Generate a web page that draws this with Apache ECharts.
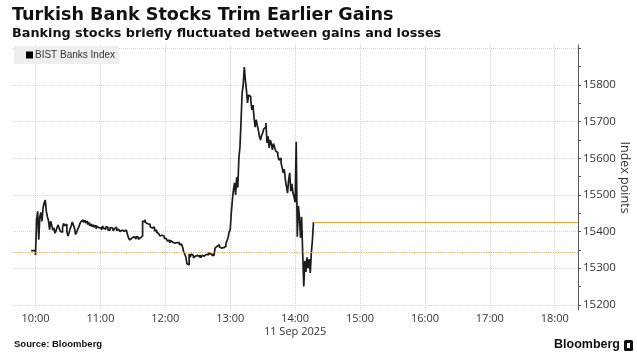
<!DOCTYPE html>
<html><head><meta charset="utf-8">
<script src="https://cdn.jsdelivr.net/npm/echarts@6/dist/echarts.min.js"></script>
<style>html,body{margin:0;padding:0;background:#fff}#c{width:637px;height:356px}</style>
</head><body><div id="c"></div>
<script>
// ---- data ----
const seriesName = 'BIST Banks Index';
const startTime = '09:56';           // first minute of the per-minute series
const values = [
 15348,15348,15348,15348,
 15336,15432,15455,15378,15440,15452,15428,15465,15478,15486,
 15455,15440,15430,15405,15428,15418,15404,15410,15396,15402,
 15412,15418,15408,15400,15398,15412,15422,15416,15420,15400,
 15388,15396,15408,15415,15426,15418,15410,15392,15398,15406,
 15412,15421,15427,15432,15426,15430,15424,15428,15420,15424,
 15416,15420,15414,15418,15412,15417,15408,15414,15410,15406,
 15410,15404,15415,15409,15406,15413,15412,15404,15404,15411,
 15410,15405,15402,15408,15412,15403,15406,15410,15400,15404,
 15408,15401,15398,15404,15405,15392,15383,15377,15382,15380,
 15386,15381,15380,15386,15385,15379,15383,15386,15388,15429,
 15426,15432,15424,15421,15416,15420,15413,15410,15407,15412,
 15402,15404,15398,15394,15398,15388,15390,15385,15388,15382,
 15380,15383,15374,15377,15369,15375,15371,15372,15368,15366,
 15370,15367,15370,15364,15366,15362,15357,15345,15338,15330,
 15312,15309,15339,15330,15339,15334,15328,15333,15331,15335,
 15338,15330,15336,15329,15335,15333,15331,15338,15340,15336,
 15342,15339,15338,15334,15340,15334,15355,15360,15362,15364,
 15358,15355,15350,15356,15353,15360,15366,15375,15383,15399,
 15405,15451,15486,15514,15533,15500,15548,15520,15600,15631,
 15700,15778,15800,15849,15814,15786,15751,15773,15768,15759,
 15732,15745,15713,15685,15705,15690,15677,15660,15650,15662,
 15669,15680,15685,15696,15642,15660,15628,15650,15640,15623,
 15640,15631,15620,15615,15608,15595,15600,15587,15575,15560,
 15570,15541,15522,15505,15541,15560,15510,15530,15505,15495,
 15480,15645,15386,15470,15440,15383,15440,15340,15250,15320,
 15290,15330,15300,15325,15287,15342,15377,15426
];
const prevClose = 15344;
const xLabelTimes = ['10:00','11:00','12:00','13:00','14:00','15:00','16:00','17:00','18:00'];
const dateText = '11 Sep 2025';
const dateUnderTime = '14:00';
const yLabelValues = [15200,15300,15400,15500,15600,15700,15800];
const yTickValues = [15200,15250,15300,15350,15400,15450,15500,15550,15600,15650,15700,15750,15800,15850,15900];
const xRange = [579.2, 1101.5];   // minutes of day, visible window
const yRange = [15186, 15909];

// ---- helpers ----
const toMin = s => { const [h, m] = s.split(':').map(Number); return h * 60 + m; };
const toHHMM = m => { const h = Math.floor(m / 60), mm = Math.round(m % 60); return String(h).padStart(2, '0') + ':' + String(mm).padStart(2, '0'); };
const t0 = toMin(startTime);
const lineData = values.map((v, i) => [t0 + i, v]);
const lastPoint = lineData[lineData.length - 1];
const xTicks = xLabelTimes.map(toMin);

const FONT = "'Liberation Sans', Arial, sans-serif";
const TFONT = "'DejaVu Sans', sans-serif";
const AXFONT = "'Open Sans', 'Noto Sans', sans-serif";
const ORANGE = '#f2a43a';

const chart = echarts.init(document.getElementById('c'), null, { renderer: 'canvas' });
chart.setOption({
  animation: false,
  backgroundColor: '#ffffff',
  grid: { left: 13, right: 59, top: 45, bottom: 46, outerBoundsMode: 'none', containLabel: false },
  legend: {
    data: [seriesName], left: 14, top: 46, orient: 'horizontal',
    backgroundColor: '#eeeeee', padding: [4, 4, 4, 12],
    icon: 'rect', itemWidth: 7, itemHeight: 7, itemGap: 4,
    textStyle: { fontFamily: FONT, fontSize: 10, color: '#333', padding: [0, 0, 0, -3] },
    selectedMode: false
  },
  xAxis: {
    type: 'value', min: xRange[0], max: xRange[1],
    axisLine: { show: false },
    axisTick: { show: false, customValues: xTicks },
    axisLabel: {
      customValues: xTicks, margin: 2,
      fontFamily: AXFONT, fontSize: 11, color: '#333', lineHeight: 13,
      formatter: v => { const s = toHHMM(v); return s === dateUnderTime ? s + '\n' + dateText : s; }
    },
    splitLine: { show: true, lineStyle: { color: '#d4d4d4', type: 'dotted', width: 1 } }
  },
  yAxis: {
    type: 'value', position: 'right', min: yRange[0], max: yRange[1],
    axisLine: { show: true, lineStyle: { color: '#555', width: 1 } },
    axisTick: { show: true, customValues: yTickValues, length: 3, lineStyle: { color: '#555' } },
    axisLabel: { customValues: yLabelValues, margin: 5, fontFamily: AXFONT, fontSize: 11.5, color: '#333', formatter: v => String(v) },
    splitLine: { show: true, lineStyle: { color: ['#d4d4d4', 'rgba(0,0,0,0)'], type: 'dotted', width: 1 } },
    name: 'Index points', nameLocation: 'middle', nameRotate: -90, nameGap: 40, nameMoveOverlap: false,
    nameTextStyle: { fontFamily: AXFONT, fontSize: 12.5, color: '#333' }
  },
  series: [
    {
      name: seriesName, type: 'line', data: lineData, step: 'end', showSymbol: false,
      lineStyle: { color: '#1c1c1c', width: 1.7 }, itemStyle: { color: '#000' },
      z: 3,
      markLine: {
        silent: true, symbol: 'none', label: { show: false },
        data: [
          { yAxis: prevClose, lineStyle: { color: ORANGE, type: 'dotted', width: 1.2 } },
          [ { coord: lastPoint, lineStyle: { color: ORANGE, type: 'solid', width: 1.2 } }, { coord: [xRange[1], lastPoint[1]] } ]
        ]
      }
    }
  ],
  graphic: [
    { type: 'text', left: 12, top: 6, style: { text: 'Turkish Bank Stocks Trim Earlier Gains', font: "bold 17.6px " + TFONT, fill: '#111' } },
    { type: 'text', left: 12, top: 27, style: { text: 'Banking stocks briefly fluctuated between gains and losses', font: "bold 12.8px " + TFONT, fill: '#111' } },
    { type: 'rect', left: 18, top: 52, shape: { width: 4, height: 4 }, style: { fill: 'none', stroke: '#999', lineWidth: 0.8 } },
    { type: 'text', left: 14, top: 339, style: { text: 'Source: Bloomberg', font: "bold 9.5px " + FONT, fill: '#111' } },
    { type: 'text', right: 17, top: 338, style: { text: 'Bloomberg', font: "bold 12.5px " + FONT, fill: '#111' } },
    { type: 'rect', right: 4, top: 340, shape: { width: 9, height: 11, r: 1.5 }, style: { fill: '#111' } },
    { type: 'rect', right: 7, top: 343, shape: { width: 3, height: 5 }, style: { fill: '#fff' } }
  ]
});
</script>
</body></html>
